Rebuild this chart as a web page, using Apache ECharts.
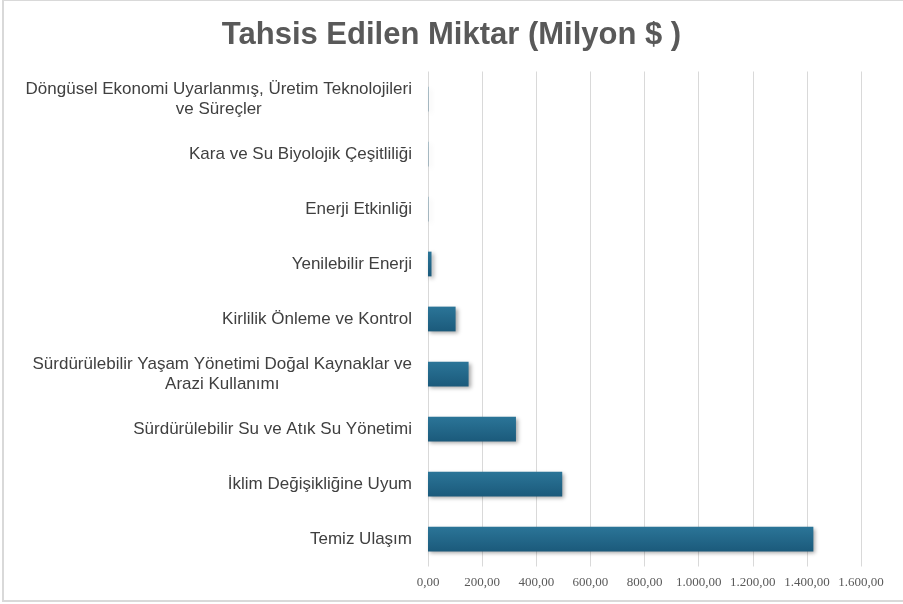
<!DOCTYPE html>
<html>
<head>
<meta charset="utf-8">
<script src="https://cdn.jsdelivr.net/npm/echarts@6/dist/echarts.min.js"></script>
<style>
  html, body { margin: 0; padding: 0; background: #fff; }
  #chart { width: 903px; height: 604px; }
</style>
</head>
<body>
<div id="chart"></div>
<script>
// kategoriler (alttan yukari)
var categories = [
  'Temiz Ulaşım',
  'İklim Değişikliğine Uyum',
  'Sürdürülebilir Su ve Atık Su Yönetimi',
  'Sürdürülebilir Yaşam Yönetimi Doğal Kaynaklar ve\nArazi Kullanımı',
  'Kirlilik Önleme ve Kontrol',
  'Yenilebilir Enerji',
  'Enerji Etkinliği',
  'Kara ve Su Biyolojik Çeşitliliği',
  'Döngüsel Ekonomi Uyarlanmış, Üretim Teknolojileri\nve Süreçler'
];
var amounts = [1424, 496, 325, 150, 102, 13, 1, 1, 1];
var xTicks = [0, 200, 400, 600, 800, 1000, 1200, 1400, 1600];

function fmt(v) {
  // 1.000,00 bicimi
  var s = Math.round(v).toString().replace(/\B(?=(\d{3})+(?!\d))/g, '.');
  return s + ',00';
}

var chart = echarts.init(document.getElementById('chart'));
chart.setOption({
  backgroundColor: '#fff',
  animation: false,
  title: {
    text: 'Tahsis Edilen Miktar (Milyon $ )',
    left: 'center',
    top: 15,
    textStyle: {
      fontFamily: 'Liberation Sans',
      fontSize: 31,
      fontWeight: 'bold',
      color: '#595959'
    }
  },
  graphic: [{
    type: 'rect',
    shape: { x: 3, y: 0, width: 910, height: 601 },
    style: { fill: 'none', stroke: '#d9d9d9', lineWidth: 2 },
    silent: true
  }],
  grid: { left: 428, right: 42, top: 71.5, bottom: 37.5 },
  xAxis: {
    type: 'value',
    min: xTicks[0],
    max: xTicks[xTicks.length - 1],
    interval: 200,
    axisLine: { show: false },
    axisTick: { show: false },
    splitLine: { show: true, lineStyle: { color: '#d9d9d9', width: 1 } },
    axisLabel: {
      margin: 10,
      fontFamily: 'Liberation Serif',
      fontSize: 13,
      color: '#595959',
      formatter: fmt
    }
  },
  yAxis: {
    type: 'category',
    data: categories,
    axisLine: { show: false },
    axisTick: { show: false },
    axisLabel: {
      margin: 16,
      fontFamily: 'Liberation Sans',
      fontSize: 17,
      color: '#404040',
      lineHeight: 20,
      formatter: function (v) { return '{c|' + v.split('\n').join('}\n{c|') + '}'; },
      rich: { c: { align: 'center', fontFamily: 'Liberation Sans', fontSize: 17, color: '#404040', lineHeight: 20 } }
    }
  },
  series: [{
    type: 'bar',
    data: amounts,
    barWidth: '45%',
    itemStyle: {
      color: new echarts.graphic.LinearGradient(0, 0, 0, 1, [
        { offset: 0, color: '#2b7598' },
        { offset: 1, color: '#1b5a7b' }
      ]),
      shadowColor: 'rgba(0,0,0,0.35)',
      shadowBlur: 4,
      shadowOffsetX: 2,
      shadowOffsetY: 2
    }
  }]
});
</script>
</body>
</html>
